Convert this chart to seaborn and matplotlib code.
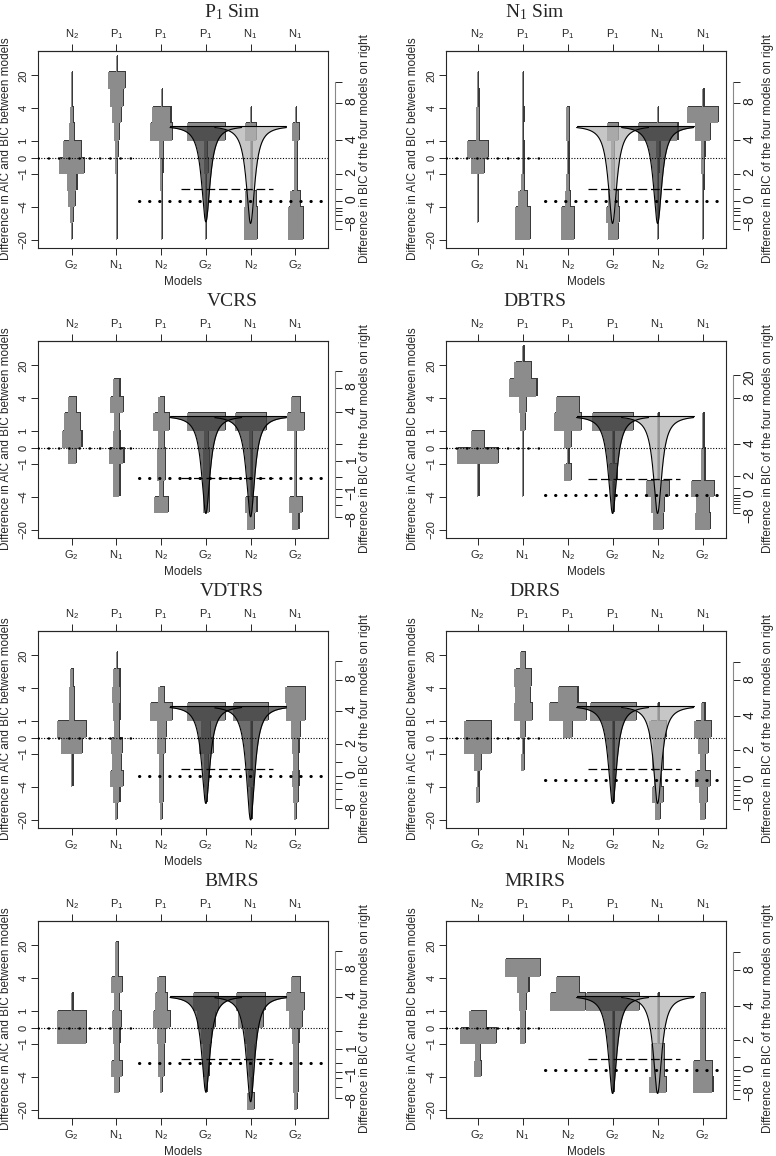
import numpy as np
import pandas as pd
import seaborn as sns
import matplotlib.pyplot as plt

# ---- data ------------------------------------------------------------------
# bin edges on the (transformed) difference scale, shared by every panel
bin_edges = [-5, -4, -3, -2, -1, 0, 1, 2.1, 3.1, 4.2, 5.2, 6.2]
left_ticks = [-5, -3, -1, 0, 1, 3, 5]
left_labels = ['\u221220', '\u22124', '\u22121', '0', '1', '4', '20']
bottom_models = [r'$G_2$', r'$N_1$', r'$N_2$', r'$G_2$', r'$N_2$', r'$G_2$']
top_models = [r'$N_2$', r'$P_1$', r'$P_1$', r'$P_1$', r'$N_1$', r'$N_1$']
titles = [r'$P_1$ Sim', r'$N_1$ Sim', 'VCRS', 'DBTRS', 'VDTRS', 'DRRS', 'BMRS', 'MRIRS']

# half widths (x0.01) of the binned distributions, one row per model column,
# bins listed from bottom (-20) to top (>20)
p1_sim = [[1, 4, 7, 11, 28, 20, 5, 3, 1, 1, 0],
          [1, 1, 1, 1, 2, 3, 6, 10, 15, 19, 1],
          [1, 1, 1, 2, 3, 5, 24, 21, 1, 0, 0],
          [1, 1, 1, 1, 4, 3, 43, 0, 0, 0, 0],
          [15, 15, 12, 2, 2, 2, 12, 1, 0, 0, 0],
          [17, 17, 11, 4, 3, 4, 8, 1, 0, 0, 0]]
n1_sim = [[0, 1, 1, 1, 14, 23, 4, 3, 2, 1, 0],
          [17, 17, 9, 4, 2, 2, 1, 2, 1, 1, 0],
          [14, 14, 6, 3, 2, 2, 4, 3, 0, 0, 0],
          [11, 15, 11, 4, 3, 3, 12, 0, 0, 0, 0],
          [1, 1, 1, 1, 2, 4, 44, 1, 0, 0, 0],
          [1, 1, 1, 2, 3, 4, 17, 35, 2, 0, 0]]
vcrs = [[0, 0, 0, 0, 9, 22, 18, 9, 0, 0, 0],
        [0, 0, 7, 7, 16, 7, 5, 15, 7, 0, 0],
        [0, 15, 5, 9, 9, 6, 17, 6, 0, 0, 0],
        [0, 7, 7, 7, 7, 4, 43, 0, 0, 0, 0],
        [7, 13, 2, 2, 2, 3, 35, 0, 0, 0, 0],
        [7, 15, 2, 2, 2, 2, 19, 10, 0, 0, 0]]
dbtrs = [[0, 0, 2, 2, 45, 15, 0, 0, 0, 0, 0],
         [0, 0, 1, 1, 1, 1, 5, 7, 31, 18, 2],
         [0, 0, 0, 7, 2, 7, 30, 25, 0, 0, 0],
         [0, 2, 2, 9, 2, 2, 46, 0, 0, 0, 0],
         [11, 15, 26, 2, 2, 2, 2, 0, 0, 0, 0],
         [16, 15, 25, 4, 4, 2, 2, 0, 0, 0, 0]]
vdtrs = [[0, 0, 2, 2, 24, 33, 5, 6, 4, 0, 0],
         [2, 7, 15, 10, 13, 6, 7, 9, 7, 1, 0],
         [2, 5, 5, 5, 9, 10, 24, 6, 0, 0, 0],
         [0, 2, 5, 5, 15, 10, 43, 0, 0, 0, 0],
         [2, 2, 6, 2, 2, 2, 39, 0, 0, 0, 0],
         [2, 5, 7, 5, 7, 10, 21, 22, 0, 0, 0]]
drrs = [[0, 4, 2, 7, 29, 29, 0, 0, 0, 0, 0],
        [0, 0, 0, 3, 2, 5, 20, 16, 18, 5, 0],
        [0, 0, 0, 0, 0, 9, 41, 22, 0, 0, 0],
        [0, 2, 2, 2, 2, 2, 51, 0, 0, 0, 0],
        [5, 12, 7, 12, 11, 18, 2, 0, 0, 0, 0],
        [6, 9, 16, 5, 11, 18, 4, 0, 0, 0, 0]]
bmrs = [[0, 0, 0, 0, 32, 32, 2, 0, 0, 0, 0],
        [0, 6, 12, 5, 7, 10, 5, 12, 3, 4, 0],
        [0, 2, 6, 6, 9, 19, 13, 8, 0, 0, 0],
        [0, 2, 6, 6, 11, 20, 28, 0, 0, 0, 0],
        [7, 2, 3, 7, 12, 28, 32, 0, 0, 0, 0],
        [4, 5, 5, 5, 7, 15, 20, 10, 0, 0, 0]]
mrirs = [[0, 0, 7, 5, 40, 18, 0, 0, 0, 0, 0],
         [0, 0, 0, 0, 6, 6, 7, 13, 39, 0, 0],
         [0, 0, 0, 0, 0, 0, 39, 26, 0, 0, 0],
         [0, 2, 2, 2, 2, 2, 59, 0, 0, 0, 0],
         [0, 18, 14, 14, 2, 2, 2, 0, 0, 0, 0],
         [0, 22, 21, 6, 6, 6, 6, 0, 0, 0, 0]]
panels = [p1_sim, n1_sim, vcrs, dbtrs, vdtrs, drrs, bmrs, mrirs]

# BIC funnels (columns 4 and 5): tip levels and shading
funnel_top = 1.95
funnel_tip4 = [-3.9, -4.0, -4.0, -4.0, -4.0, -4.0, -3.9, -4.0]
funnel_tip5 = [-4.0, -4.0, -4.2, -4.0, -5.0, -4.0, -4.5, -4.0]
funnel_shade = [('d', 'l'), ('l', 'd'), ('d', 'd'), ('d', 'l'),
                ('d', 'd'), ('d', 'l'), ('d', 'd'), ('d', 'l')]
bic_zero = [-2.63, -2.63, -1.82, -2.85, -2.33, -2.55, -2.15, -2.55]
dash_level = [-1.88, -1.88, -1.82, -1.88, -1.88, -1.88, -1.88, -1.88]

# right-hand BIC axis ticks
rt_sim = [4.6, 3.32, 1.05, -0.97, -1.92, -2.63, -3.04, -3.26, -3.5, -3.85, -4.31]
rl_sim = ['', '8', '4', '2', '', '0', '', '', '', '\u22128', '']
rt_vcrs = [4.66, 3.62, 2.17, 0.2, -0.81, -1.78, -2.53, -3.0, -3.5, -4.21]
rl_vcrs = ['', '8', '4', '', '1', '', '\u22121', '', '', '\u22128']
rt_dbtrs = [4.4, 3.0, 0.2, -1.75, -2.45, -2.85, -3.05, -3.25, -3.45, -3.65, -3.95]
rl_dbtrs = ['20', '8', '4', '2', '', '0', '', '', '', '', '\u22128']
rt_vdtrs = [4.66, 3.52, 1.62, -0.4, -1.48, -2.33, -2.75, -3.1, -3.7, -4.27]
rl_vdtrs = ['', '8', '4', '2', '', '0', '', '', '', '\u22128']
rt_drrs = [4.6, 3.48, 1.3, -0.77, -1.78, -2.55, -2.96, -3.2, -3.5, -3.8, -4.31]
rl_drrs = ['', '8', '4', '2', '', '0', '', '', '', '\u22128', '']
rt_bmrs = [4.66, 3.54, 1.86, -0.2, -1.28, -2.15, -2.69, -3.04, -3.6, -4.27]
rl_bmrs = ['', '8', '4', '', '1', '', '\u22121', '', '', '\u22128']
right_ticks = [(rt_sim, rl_sim), (rt_sim, rl_sim), (rt_vcrs, rl_vcrs), (rt_dbtrs, rl_dbtrs),
               (rt_vdtrs, rl_vdtrs), (rt_drrs, rl_drrs), (rt_bmrs, rl_bmrs), (rt_drrs, rl_drrs)]

# ---- drawing ----------------------------------------------------------------
sns.set_style('ticks')
plt.rcParams['font.family'] = ['Liberation Sans', 'DejaVu Sans']
plt.rcParams['mathtext.default'] = 'regular'
plt.rcParams['axes.linewidth'] = 0.8

W, H = 776, 1156
fig = plt.figure(figsize=(W / 100, H / 100), dpi=100)

BAR = '#8c8c8c'
SHADOW = '#3a3a3a'
SHADES = {'d': '#3c3c3c', 'l': '#b4b4b4'}
cols = np.arange(1, 7)


def draw_column(ax, c, widths):
    w = np.array(widths, dtype=float) / 100
    w = np.append(w, w[-1])
    y = np.array(bin_edges)
    ax.fill_betweenx(y + 0.06, c - w + 0.025, c + w + 0.025, step='post', color=SHADOW, lw=0, zorder=2)
    ax.fill_betweenx(y, c - w, c + w, step='post', color=BAR, lw=0, zorder=3)


def draw_funnel(ax, c, tip, shade):
    xs = np.linspace(c - 0.8, c + 0.8, 801)
    ys = funnel_top - (funnel_top - tip) / (1 + ((xs - c) / 0.115) ** 2)
    ax.fill_between(xs, ys, funnel_top, color=SHADES[shade], alpha=0.75, lw=0, zorder=4)
    sns.lineplot(x=xs, y=ys, ax=ax, color='black', lw=0.8, estimator=None, sort=False, zorder=5)


for i, data in enumerate(panels):
    r, side = divmod(i, 2)
    top_px = 51 + 290 * r
    if side == 0:
        left_px, width_px, xlim = 38, 290, (0.25, 6.73)
        ylab_x, rlab_x, title_x = 6, 365, 232
    else:
        left_px, width_px, xlim = 446, 280, (0.30, 6.52)
        ylab_x, rlab_x, title_x = 413, 768, 535
    ax = fig.add_axes([left_px / W, 1 - (top_px + 197) / H, width_px / W, 197 / H])
    ax.set_xlim(*xlim)
    ax.set_ylim(-5.49, 6.48)

    for c, widths in zip(cols, data):
        draw_column(ax, c, widths)

    # reference lines
    ax.axhline(0, color='black', lw=0.8, ls=(0, (1, 1.5)), zorder=6)
    ax.plot([xlim[0], 2.4], [0, 0], color='black', lw=1.8, ls=(0, (0.1, 4.0)),
            dash_capstyle='round', zorder=6)
    ax.plot([2.5, xlim[1] - 0.1], [bic_zero[i]] * 2, color='black', lw=2.2,
            ls=(0, (0.1, 3.2)), dash_capstyle='round', zorder=6)
    ax.plot([3.45, 5.5], [dash_level[i]] * 2, color='black', lw=0.9, ls=(0, (7, 3)), zorder=6)

    draw_funnel(ax, 4, funnel_tip4[i], funnel_shade[i][0])
    draw_funnel(ax, 5, funnel_tip5[i], funnel_shade[i][1])
    ax.plot([3.2, 5.8], [funnel_top] * 2, color='black', lw=0.8, zorder=5)

    # axes and labels
    ax.set_xticks(cols, bottom_models, fontsize=8)
    ax.set_yticks(left_ticks, left_labels, fontsize=8)
    ax.tick_params(length=5, width=0.7, pad=2)
    ax.tick_params(axis='y', labelrotation=90)
    for lab in ax.get_yticklabels():
        lab.set_va('center')
    ax.set_xlabel('Models', fontsize=8.5, labelpad=3)

    top = ax.secondary_xaxis('top')
    top.set_xticks(cols, top_models, fontsize=8)
    top.tick_params(length=5, width=0.7, pad=2)

    rax = ax.twinx()
    rax.set_ylim(ax.get_ylim())
    ticks, labels = right_ticks[i]
    rax.set_yticks(ticks, labels, fontsize=8)
    rax.tick_params(length=5, width=0.7, pad=2, colors='#222222', labelrotation=90)
    for lab in rax.get_yticklabels():
        lab.set_va('center')
    for s in ['top', 'bottom', 'left']:
        rax.spines[s].set_visible(False)
    rax.spines['right'].set_position(('outward', 5))
    rax.spines['right'].set_bounds(min(ticks), max(ticks))
    rax.spines['right'].set_color('#888888')

    mid_y = 1 - (top_px + 98) / H
    fig.text(ylab_x / W, mid_y, 'Difference in AIC and BIC between models', fontsize=8.5,
             rotation=90, ha='center', va='center')
    fig.text(rlab_x / W, mid_y, 'Difference in BIC of the four models on right', fontsize=8.5,
             rotation=90, ha='center', va='center')
    fig.text(title_x / W, 1 - (12 + 290 * r) / H, titles[i], fontsize=14,
             family=['Liberation Serif', 'DejaVu Serif'], ha='center', va='center')

fig.savefig('out.png', dpi=100)
